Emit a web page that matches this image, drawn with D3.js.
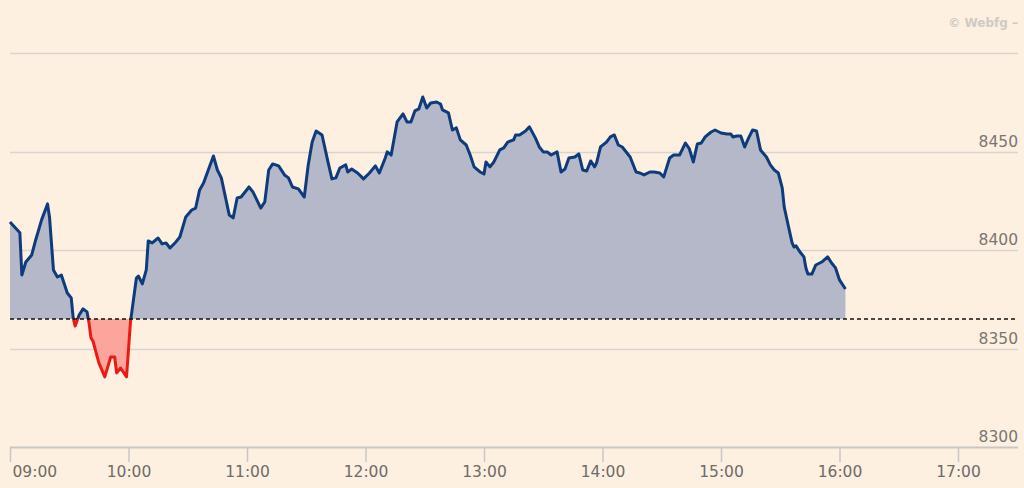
<!DOCTYPE html>
<html>
<head>
<meta charset="utf-8">
<script src="https://cdn.jsdelivr.net/npm/d3@7"></script>
<style>
  html, body { margin: 0; padding: 0; background: #fdf0e1; }
  svg { display: block; }
  text { font-family: "DejaVu Sans", sans-serif; }
</style>
</head>
<body>
<div id="chart"></div>
<script>
// Intraday index
var times = ["09:00","09:05","09:06","09:08","09:11","09:13","09:16","09:19","09:20","09:22",
  "09:24","09:26","09:28","09:29","09:31","09:32","09:33","09:35","09:37","09:39",
  "09:40","09:41","09:42","09:45","09:48","09:51","09:53","09:54","09:56","09:59",
  "10:01","10:04","10:05","10:07","10:09","10:10","10:12","10:15","10:17","10:19",
  "10:21","10:24","10:26","10:29","10:32","10:34","10:36","10:38","10:43","10:45",
  "10:47","10:51","10:53","10:55","10:57","11:01","11:03","11:07","11:09","11:11",
  "11:13","11:16","11:19","11:21","11:23","11:26","11:29","11:31","11:33","11:35",
  "11:38","11:41","11:43","11:45","11:47","11:50","11:51","11:53","11:56","11:59",
  "12:02","12:05","12:07","12:10","12:11","12:13","12:16","12:19","12:21","12:23",
  "12:25","12:27","12:29","12:31","12:33","12:36","12:38","12:39","12:42","12:44",
  "12:46","12:48","12:51","12:53","12:55","12:58","13:00","13:01","13:03","13:05",
  "13:08","13:10","13:12","13:15","13:16","13:18","13:21","13:23","13:26","13:28",
  "13:30","13:32","13:34","13:37","13:39","13:41","13:43","13:46","13:48","13:50",
  "13:52","13:54","13:56","13:57","13:59","14:02","14:04","14:06","14:08","14:10",
  "14:14","14:17","14:19","14:21","14:24","14:26","14:29","14:31","14:34","14:36",
  "14:39","14:42","14:44","14:46","14:48","14:50","14:52","14:55","14:57","15:00",
  "15:03","15:05","15:06","15:08","15:10","15:12","15:14","15:16","15:18","15:20",
  "15:23","15:25","15:27","15:29","15:31","15:32","15:34","15:36","15:37","15:38",
  "15:40","15:42","15:43","15:44","15:46","15:48","15:51","15:54","15:56","15:58",
  "16:00","16:03"];
var values = [8414.2,8408.7,8387.3,8393.9,8397.5,8405.1,8415.3,8423.4,8416.8,8389.9,
  8386.3,8387.3,8381.2,8378.2,8375.7,8365.5,8361.4,8367.0,8370.1,8368.6,
  8363.0,8355.4,8353.8,8342.7,8335.6,8345.7,8345.7,8337.6,8340.1,8335.6,
  8363.5,8385.8,8386.8,8382.8,8389.9,8404.6,8403.6,8406.1,8403.1,8403.6,
  8401.0,8404.1,8406.6,8416.8,8420.3,8421.3,8430.5,8434.0,8447.7,8440.6,
  8436.6,8417.8,8416.3,8426.4,8426.9,8432.0,8429.5,8421.3,8424.4,8440.6,
  8443.7,8442.7,8438.1,8436.6,8432.0,8431.0,8426.9,8443.2,8454.8,8460.4,
  8458.4,8444.7,8436.1,8436.6,8441.6,8443.2,8439.6,8441.1,8439.1,8436.1,
  8439.1,8442.7,8439.1,8446.7,8449.8,8448.2,8465.0,8469.1,8465.0,8465.0,
  8470.6,8471.6,8477.7,8472.1,8474.6,8475.1,8474.1,8471.1,8469.6,8460.9,
  8462.0,8455.9,8453.3,8448.2,8442.2,8439.6,8438.6,8444.7,8442.2,8444.7,
  8450.8,8451.8,8454.8,8455.9,8458.4,8458.4,8460.4,8462.5,8456.9,8452.3,
  8449.8,8449.8,8448.2,8449.8,8439.6,8441.1,8446.7,8447.2,8448.8,8440.6,
  8440.1,8445.2,8442.2,8444.2,8452.3,8454.8,8457.4,8458.4,8453.3,8452.3,
  8447.2,8439.6,8439.1,8438.1,8439.6,8439.6,8439.1,8437.1,8446.7,8448.2,
  8448.2,8454.3,8451.3,8444.7,8453.8,8454.3,8457.4,8459.9,8460.9,8459.4,
  8458.9,8458.9,8457.4,8457.9,8457.9,8452.3,8456.9,8460.9,8460.4,8450.8,
  8447.2,8443.2,8440.6,8439.1,8431.5,8421.9,8412.7,8403.6,8401.5,8402.1,
  8399.0,8396.5,8390.9,8387.8,8387.8,8392.4,8393.9,8396.5,8393.4,8390.9,
  8384.8,8380.2];
var prevClose = 8365;
var yTicks = [8300, 8350, 8400, 8450, 8500];
var yTickLabels = ["8300", "8350", "8400", "8450", ""];
var xTicks = ["09:00","10:00","11:00","12:00","13:00","14:00","15:00","16:00","17:00"];

// layout (don't call it "top", that's window.top)
var W = 1024, H = 488;
var margin = { left: 10, right: 1018, top: 53, bottom: 447 };

var parse = d3.timeParse("%H:%M");
var data = times.map(function (t, i) { return { t: parse(t), v: values[i] }; });

var x = d3.scaleTime()
  .domain([parse("09:00"), parse("17:00")])
  .range([margin.left, margin.left + 8 * 118.5]);
var y = d3.scaleLinear()
  .domain([8300, 8500])
  .range([margin.bottom, margin.top]);

var svg = d3.select("#chart").append("svg")
  .attr("width", W)
  .attr("height", H);

// gridlines
svg.append("g").selectAll("line")
  .data(yTicks.slice(1))
  .join("line")
  .attr("x1", margin.left).attr("x2", margin.right)
  .attr("y1", d => Math.round(y(d)) + 0.5)
  .attr("y2", d => Math.round(y(d)) + 0.5)
  .attr("stroke", "#d9d4cf")
  .attr("stroke-width", 1.3);

// y labels (right side, sitting above the gridline)
svg.append("g").selectAll("text")
  .data(yTicks)
  .join("text")
  .attr("x", margin.right)
  .attr("y", d => y(d) - 5)
  .attr("text-anchor", "end")
  .attr("font-size", 15.5)
  .attr("fill", "#7a7671")
  .text((d, i) => yTickLabels[i]);

// clip regions above / below previous close
var base = y(prevClose);
var defs = svg.append("defs");
defs.append("clipPath").attr("id", "above")
  .append("rect").attr("x", 0).attr("y", 0).attr("width", W).attr("height", base);
defs.append("clipPath").attr("id", "below")
  .append("rect").attr("x", 0).attr("y", base).attr("width", W).attr("height", H - base);

var area = d3.area()
  .x(d => x(d.t))
  .y0(base)
  .y1(d => y(d.v));
var line = d3.line()
  .x(d => x(d.t))
  .y(d => y(d.v));

svg.append("path").datum(data)
  .attr("clip-path", "url(#above)")
  .attr("fill", "#b4b8c8")
  .attr("d", area);
svg.append("path").datum(data)
  .attr("clip-path", "url(#below)")
  .attr("fill", "#fba59c")
  .attr("d", area);

svg.append("path").datum(data)
  .attr("clip-path", "url(#above)")
  .attr("fill", "none")
  .attr("stroke", "#0d3b7c")
  .attr("stroke-width", 3)
  .attr("stroke-linejoin", "round")
  .attr("d", line);
svg.append("path").datum(data)
  .attr("clip-path", "url(#below)")
  .attr("fill", "none")
  .attr("stroke", "#ec1a12")
  .attr("stroke-width", 3)
  .attr("stroke-linejoin", "round")
  .attr("d", line);

// previous close dashed line
svg.append("line")
  .attr("x1", margin.left).attr("x2", margin.right)
  .attr("y1", base).attr("y2", base)
  .attr("stroke", "#111")
  .attr("stroke-width", 1.6)
  .attr("stroke-dasharray", "4,3");

// x axis
var xAxis = svg.append("g")
  .attr("transform", "translate(0," + margin.bottom + ")")
  .call(d3.axisBottom(x)
    .tickValues(xTicks.map(parse))
    .tickSize(15)
    .tickPadding(3)
    .tickFormat(d3.timeFormat("%H:%M")));
xAxis.select(".domain")
  .attr("d", "M" + margin.left + ",0.5H" + margin.right)
  .attr("stroke", "#c9c7c6")
  .attr("stroke-width", 2);
xAxis.selectAll(".tick line").attr("stroke", "#c9c7c6").attr("stroke-width", 1.5);
xAxis.selectAll(".tick text")
  .attr("font-family", "DejaVu Sans, sans-serif")
  .attr("font-size", 15.5)
  .attr("fill", "#6f6b67")
  .attr("dy", "0.8em");
xAxis.select(".tick text").attr("text-anchor", "start").attr("dx", 2);

// watermark
svg.append("text")
  .attr("x", margin.right)
  .attr("y", 27)
  .attr("text-anchor", "end")
  .attr("font-size", 12)
  .attr("font-weight", "bold")
  .attr("fill", "#cfcac4")
  .text("© Webfg –");
</script>
</body>
</html>
